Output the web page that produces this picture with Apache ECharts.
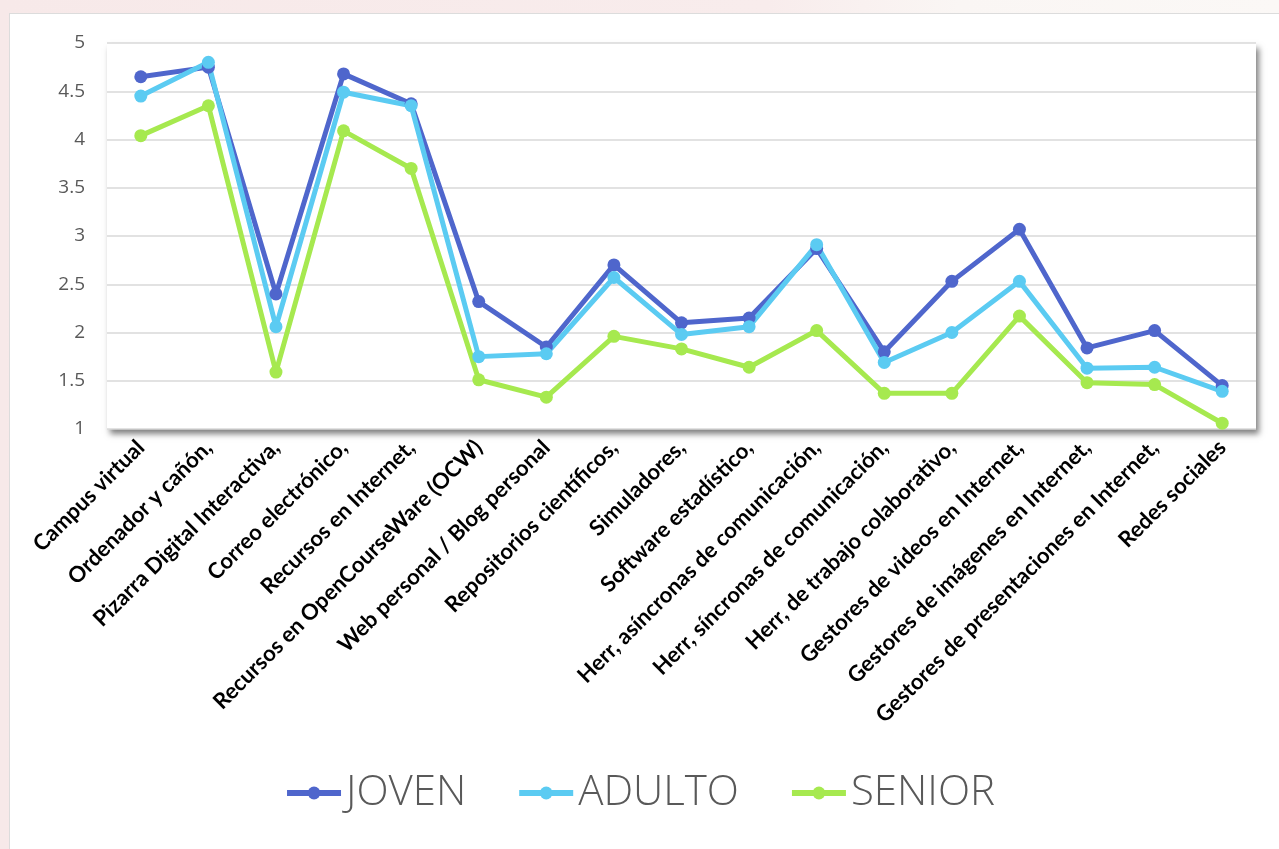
<!DOCTYPE html>
<html>
<head>
<meta charset="utf-8">
<script src="https://cdn.jsdelivr.net/npm/echarts@6/dist/echarts.min.js"></script>
<style>
html,body{margin:0;padding:0;width:1279px;height:849px;overflow:hidden;background:linear-gradient(90deg,#f7e9e9 0%,#f8ecec 60%,#faf6f4 75%,#fbf8f6 100%);}
#panel{position:absolute;left:9px;top:13px;width:1280px;height:850px;background:#fff;border:1px solid #dcdcdc;}
#chart{position:absolute;left:0;top:0;width:1279px;height:849px;}
</style>
</head>
<body>
<div id="panel"></div>
<div id="chart"></div>
<script>
const categories = [
  'Campus virtual',
  'Ordenador y cañón,',
  'Pizarra Digital Interactiva,',
  'Correo electrónico,',
  'Recursos en Internet,',
  'Recursos en OpenCourseWare (OCW)',
  'Web personal / Blog personal',
  'Repositorios científicos,',
  'Simuladores,',
  'Software estadístico,',
  'Herr, asíncronas de comunicación,',
  'Herr, síncronas de comunicación,',
  'Herr, de trabajo colaborativo,',
  'Gestores de videos en Internet,',
  'Gestores de imágenes en Internet,',
  'Gestores de presentaciones en Internet,',
  'Redes sociales'
];
const joven  = [4.65, 4.75, 2.40, 4.68, 4.37, 2.32, 1.85, 2.70, 2.10, 2.15, 2.87, 1.80, 2.53, 3.07, 1.84, 2.02, 1.45];
const adulto = [4.45, 4.80, 2.06, 4.49, 4.35, 1.75, 1.78, 2.57, 1.98, 2.06, 2.91, 1.69, 2.00, 2.53, 1.63, 1.64, 1.39];
const senior = [4.04, 4.35, 1.59, 4.09, 3.70, 1.51, 1.33, 1.96, 1.83, 1.64, 2.02, 1.37, 1.37, 2.17, 1.48, 1.46, 1.06];
const seriesNames = ['JOVEN', 'ADULTO', 'SENIOR'];
const colors = ['#4f66cc', '#5bcbf2', '#a6e94f'];

const chart = echarts.init(document.getElementById('chart'), null, {renderer: 'canvas'});
const mk = (name, data, color) => ({
  name, type: 'line', data,
  symbol: 'circle', symbolSize: 13,
  lineStyle: {width: 5, color},
  itemStyle: {color},
  z: 3
});
chart.setOption({
  animation: false,
  textStyle: {fontFamily: 'Open Sans'},
  grid: {
    left: 107, right: 23, top: 43, bottom: 420,
    show: true, backgroundColor: '#ffffff', borderWidth: 0,
    shadowColor: 'rgba(0,0,0,0.5)', shadowBlur: 6, shadowOffsetX: 3, shadowOffsetY: 5
  },
  legend: {
    data: seriesNames,
    bottom: 30, left: 'center',
    itemWidth: 54, itemHeight: 16, itemGap: 50,
    lineStyle: {width: 6},
    textStyle: {fontSize: 42, color: '#595959', fontFamily: 'Open Sans', fontWeight: 300}
  },
  xAxis: {
    type: 'category', data: categories, boundaryGap: true,
    axisLine: {show: false}, axisTick: {show: false},
    axisLabel: {rotate: 45, interval: 0, margin: 15, fontSize: 22, fontWeight: 'bold', color: '#000', fontFamily: 'Lato'}
  },
  yAxis: {
    type: 'value', min: 1, max: 5, interval: 0.5,
    axisLine: {show: false}, axisTick: {show: false},
    axisLabel: {fontSize: 19, color: '#595959', margin: 22, fontFamily: 'Open Sans'},
    splitLine: {lineStyle: {color: '#d9d9d9', width: 1.5}}
  },
  series: [mk(seriesNames[0], joven, colors[0]), mk(seriesNames[1], adulto, colors[1]), mk(seriesNames[2], senior, colors[2])]
});
</script>
</body>
</html>
